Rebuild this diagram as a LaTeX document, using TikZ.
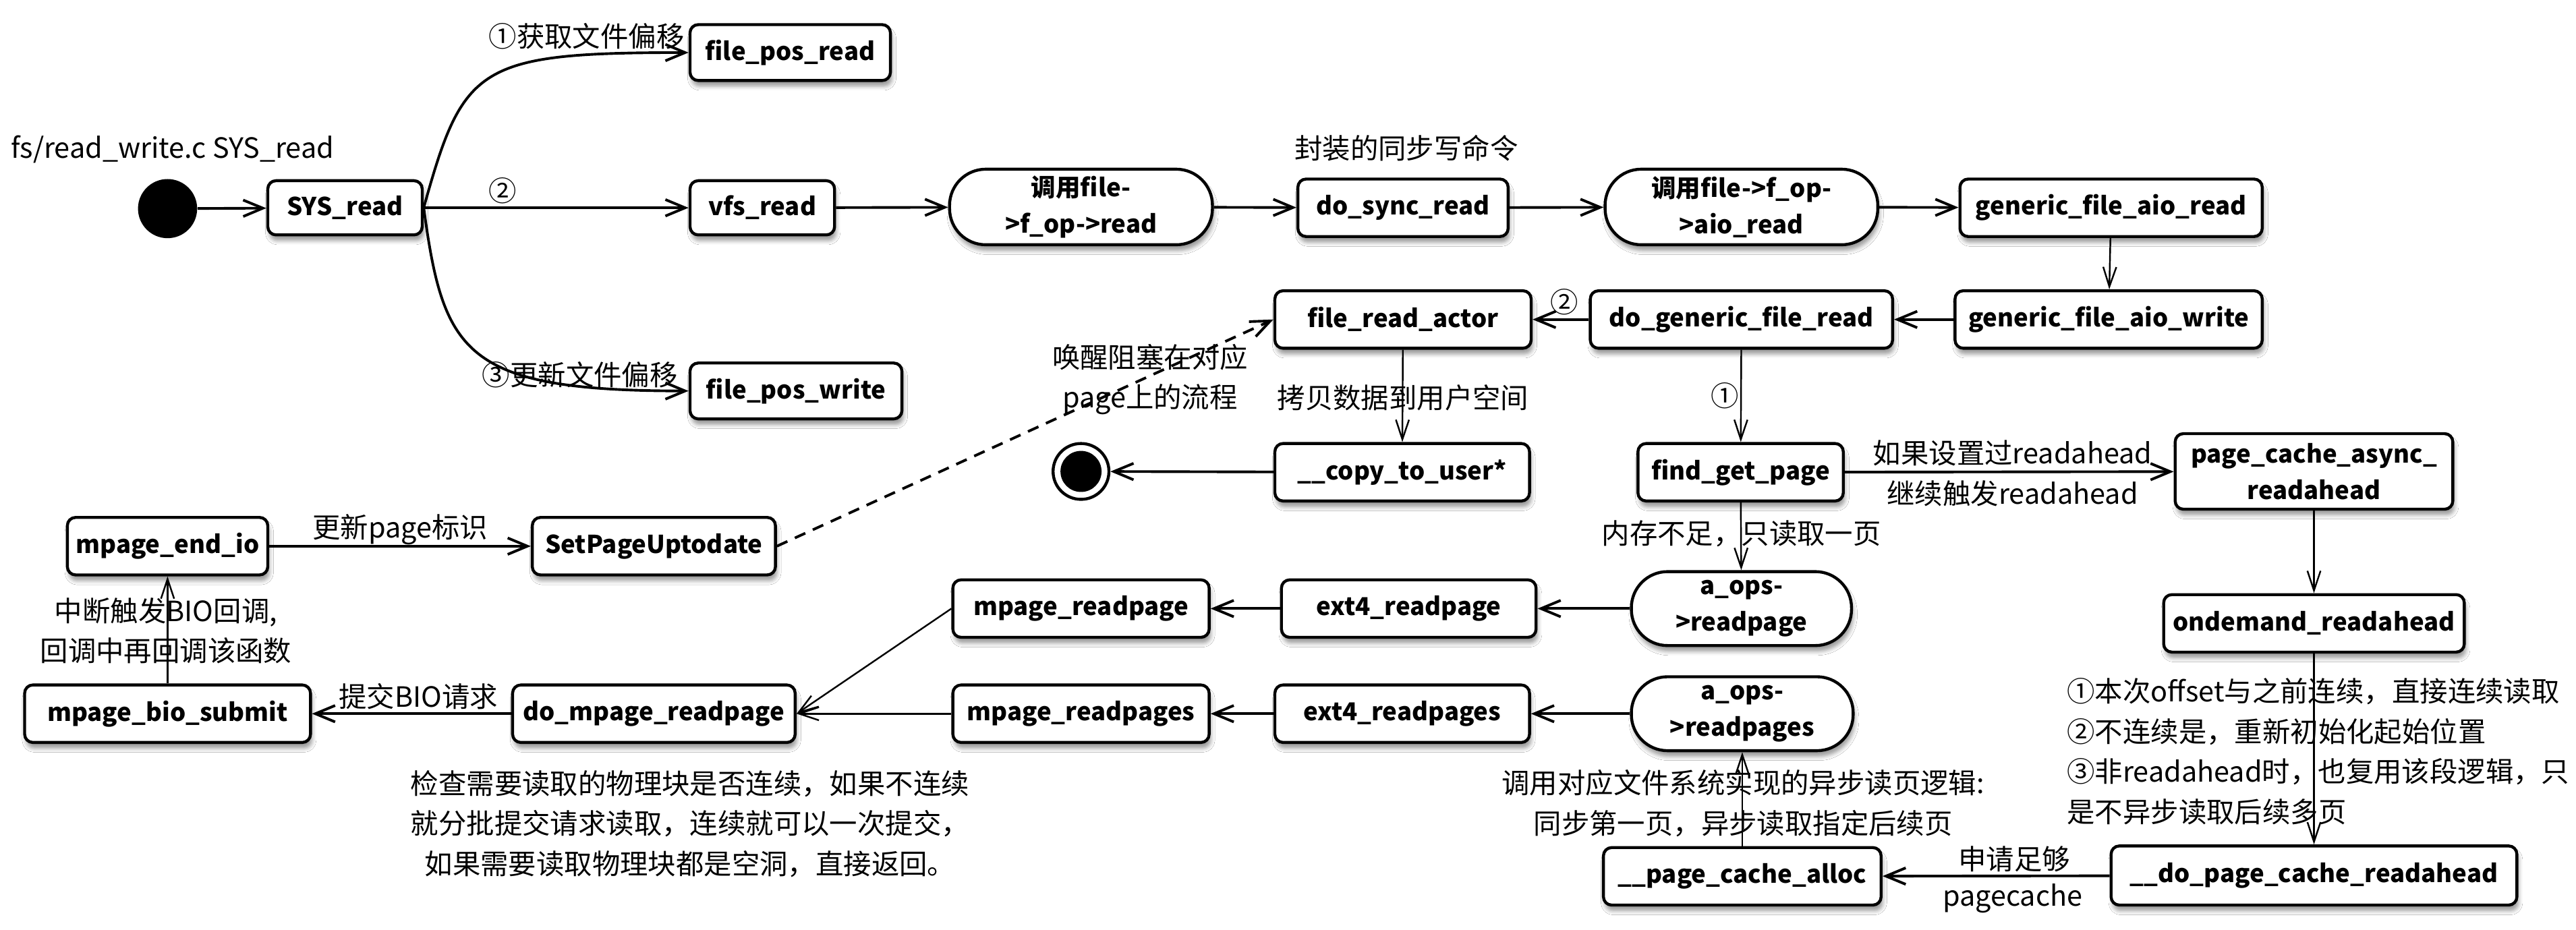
\documentclass[tikz,border=0pt]{standalone}
\usepackage{fontspec}
\setmainfont{Noto Sans CJK SC}
\usetikzlibrary{arrows.meta,shadows.blur}
\tikzset{
  box/.style={draw, line width=1.8pt, rounded corners=5pt, fill=white, inner sep=0pt,
    font=\bfseries\fontsize{15}{22}\selectfont, align=center,
    blur shadow={shadow xshift=1pt, shadow yshift=-3.5pt, shadow blur radius=2.5pt, shadow opacity=40}},
  stadium/.style={box, rounded corners=22pt},
  lbl/.style={font=\fontsize{17}{24.5}\selectfont, inner sep=0pt, align=center},
  tarr/.style={line width=1.6pt, -{Straight Barb[length=12pt,width=10pt]}},
  narr/.style={line width=1pt, -{Straight Barb[length=12pt,width=8pt]}},
}
\begin{document}
\begin{tikzpicture}[x=1pt,y=-1pt]
\fill[white] (0,0) rectangle (1568,566);
\useasboundingbox (0,0) rectangle (1568,566);

% nodes
\node[circle, fill=black, minimum size=36pt, inner sep=0pt] (start) at (102,127) {};
\node[box, minimum width=94pt, minimum height=33pt] (sysread) at (210,126.5) {SYS\_read};
\node[box, minimum width=122pt, minimum height=34pt] (fileposread) at (481,32) {file\_pos\_read};
\node[box, minimum width=88pt, minimum height=33pt] (vfsread) at (464,126.5) {vfs\_read};
\node[box, minimum width=129pt, minimum height=34pt] (fileposwrite) at (484.5,238) {file\_pos\_write};
\node[stadium, minimum width=160pt, minimum height=46pt] (callread) at (658,126) {调用file-\\>f\_op->read};
\node[box, minimum width=128pt, minimum height=35pt] (dosync) at (854,126.5) {do\_sync\_read};
\node[stadium, minimum width=166pt, minimum height=46pt] (callaio) at (1060,126) {调用file->f\_op-\\>aio\_read};
\node[box, minimum width=184pt, minimum height=35pt] (gfaread) at (1285,126.5) {generic\_file\_aio\_read};
\node[box, minimum width=187pt, minimum height=35pt] (gfawrite) at (1283.5,194.5) {generic\_file\_aio\_write};
\node[box, minimum width=184pt, minimum height=35pt] (dogeneric) at (1060,194.5) {do\_generic\_file\_read};
\node[box, minimum width=156pt, minimum height=35pt] (fileactor) at (854,194.5) {file\_read\_actor};
\node[box, minimum width=155pt, minimum height=35pt] (copyuser) at (853.5,287.5) {\_\_copy\_to\_user*};
\node[circle, draw, line width=1.8pt, fill=white, minimum size=34pt, inner sep=0pt] (endnode) at (658,287) {};
\fill[black] (endnode.center) circle (12.5pt);
\node[box, minimum width=125pt, minimum height=35pt] (findpage) at (1059.5,287.5) {find\_get\_page};
\node[box, minimum width=169pt, minimum height=46pt] (asyncra) at (1408.5,287) {page\_cache\_async\_\\readahead};
\node[box, minimum width=183pt, minimum height=35pt] (ondemand) at (1408.5,379.5) {ondemand\_readahead};
\node[box, minimum width=247pt, minimum height=36pt] (dopcra) at (1408.5,533) {\_\_do\_page\_cache\_readahead};
\node[box, minimum width=169pt, minimum height=35pt] (pcalloc) at (1060.5,533.5) {\_\_page\_cache\_alloc};
\node[stadium, minimum width=134pt, minimum height=45pt] (areadpage) at (1060,370.5) {a\_ops-\\>readpage};
\node[stadium, minimum width=135pt, minimum height=45pt] (areadpages) at (1060.5,434.5) {a\_ops-\\>readpages};
\node[box, minimum width=155pt, minimum height=35pt] (ext4rp) at (857.5,370.5) {ext4\_readpage};
\node[box, minimum width=156pt, minimum height=35pt] (mpagerp) at (658,370.5) {mpage\_readpage};
\node[box, minimum width=155pt, minimum height=35pt] (ext4rps) at (853.5,434.5) {ext4\_readpages};
\node[box, minimum width=156pt, minimum height=35pt] (mpagerps) at (658,434.5) {mpage\_readpages};
\node[box, minimum width=172pt, minimum height=35pt] (domrp) at (398,434.5) {do\_mpage\_readpage};
\node[box, minimum width=174pt, minimum height=35pt] (biosubmit) at (102,434.5) {mpage\_bio\_submit};
\node[box, minimum width=122pt, minimum height=35pt] (endio) at (102,332.5) {mpage\_end\_io};
\node[box, minimum width=148pt, minimum height=35pt] (uptodate) at (398,332.5) {SetPageUptodate};

% connectors
\draw[tarr] (start) -- (sysread);
\draw[tarr] (sysread.east) .. controls (282,40) and (290,32) .. (fileposread.west);
\draw[tarr] (sysread) -- (vfsread);
\draw[tarr] (sysread.east) .. controls (270,215) and (282,238) .. (fileposwrite.west);
\draw[tarr] (vfsread) -- (callread);
\draw[tarr] (callread) -- (dosync);
\draw[tarr] (dosync) -- (callaio);
\draw[tarr] (callaio) -- (gfaread);
\draw[narr] (gfaread) -- (gfawrite);
\draw[tarr] (gfawrite) -- (dogeneric);
\draw[tarr] (dogeneric) -- (fileactor);
\draw[narr] (fileactor) -- (copyuser);
\draw[tarr] (copyuser) -- (endnode);
\draw[narr] (dogeneric) -- (findpage);
\draw[tarr] (findpage) -- (asyncra);
\draw[narr] (asyncra) -- (ondemand);
\draw[narr] (ondemand) -- (dopcra);
\draw[tarr] (dopcra) -- (pcalloc);
\draw[narr] (pcalloc) -- (areadpages);
\draw[narr] (findpage) -- (areadpage);
\draw[tarr] (areadpage) -- (ext4rp);
\draw[tarr] (ext4rp) -- (mpagerp);
\draw[tarr] (areadpages) -- (ext4rps);
\draw[tarr] (ext4rps) -- (mpagerps);
\draw[narr] (mpagerp.west) -- (domrp.east);
\draw[narr] (mpagerps) -- (domrp);
\draw[tarr] (domrp) -- (biosubmit);
\draw[narr] (biosubmit) -- (endio);
\draw[tarr] (endio) -- (uptodate);
\draw[tarr, dash pattern=on 7pt off 5pt] (uptodate.east) -- (fileactor.west);

% labels
\node[lbl] (lfs) at (105,91) {fs/read\_write.c SYS\_read};
\node[lbl] (l1) at (357,22) {①获取文件偏移};
\node[lbl] (l2) at (306,116) {②};
\node[lbl] (l3) at (353,228) {③更新文件偏移};
\node[lbl] (lsync) at (856,90) {封装的同步写命令};
\node[lbl] (l2b) at (952,184) {②};
\node[lbl] (lcopy) at (854,242) {拷贝数据到用户空间};
\node[lbl] (l1b) at (1050,241) {①};
\node[lbl] (lwake) at (700,231) {唤醒阻塞在对应\\page上的流程};
\node[lbl] (lra1) at (1225,276) {如果设置过readahead};
\node[lbl] (lra2) at (1225,300.5) {继续触发readahead};
\node[lbl] (lmem) at (1060,325) {内存不足，只读取一页};
\node[lbl, align=left, anchor=west] (lon) at (1258,457.5) {①本次offset与之前连续，直接连续读取\\②不连续是，重新初始化起始位置\\③非readahead时，也复用该段逻辑，只\\是不异步读取后续多页};
\node[lbl] (lfs2) at (1061,489) {调用对应文件系统实现的异步读页逻辑:\\同步第一页，异步读取指定后续页};
\node[lbl] (lreq) at (1226,523) {申请足够};
\node[lbl] (lpc) at (1225,547) {pagecache};
\node[lbl] (lchk) at (420,501.5) {检查需要读取的物理块是否连续，如果不连续\\就分批提交请求读取，连续就可以一次提交，\\如果需要读取物理块都是空洞，直接返回。};
\node[lbl] (lbio) at (254.6,424) {提交BIO请求};
\node[lbl] (lint) at (101,384) {中断触发BIO回调,\\回调中再回调该函数};
\node[lbl] (lupd) at (243.5,322.5) {更新page标识};
\end{tikzpicture}
\end{document}
